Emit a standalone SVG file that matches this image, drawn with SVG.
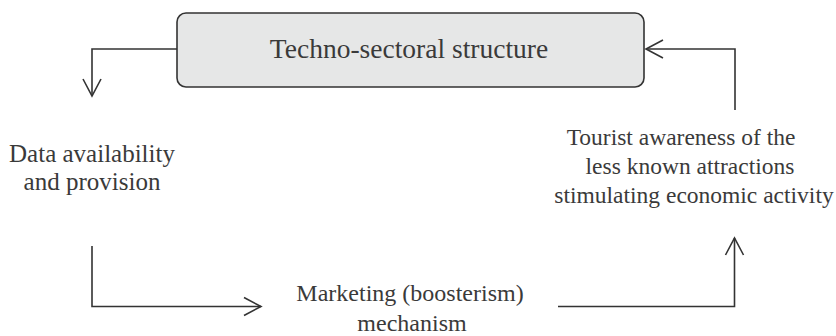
<svg xmlns="http://www.w3.org/2000/svg" width="836" height="336" viewBox="0 0 836 336">
<style>
.lbl{font-family:"Liberation Serif","Times New Roman",serif;fill:#3a3a3a;text-anchor:middle}
.con{fill:none;stroke:#333;stroke-width:1.6}
.head{fill:none;stroke:#333;stroke-width:1.6;stroke-linejoin:miter}
</style>
<rect width="836" height="336" fill="#fff"/>
<g id="node-techno">
<rect x="177" y="13" width="467" height="74" rx="9" ry="9" fill="#e6e7e7" stroke="#333" stroke-width="1.6"/>
<text class="lbl" x="409" y="57.5" font-size="27.5">Techno-sectoral structure</text>
</g>
<g id="node-data">
<text class="lbl" x="92" y="162" font-size="25">Data availability</text>
<text class="lbl" x="92" y="190" font-size="25">and provision</text>
</g>
<g id="node-marketing">
<text class="lbl" x="410" y="301" font-size="24">Marketing (boosterism)</text>
<text class="lbl" x="412" y="331" font-size="24">mechanism</text>
</g>
<g id="node-tourist">
<text class="lbl" x="681" y="145" font-size="23.5">Tourist awareness of the</text>
<text class="lbl" x="690" y="174" font-size="23.5">less known attractions</text>
<text class="lbl" x="694" y="203" font-size="23.5">stimulating economic activity</text>
</g>
<g id="connectors">
<path class="con" d="M177 49 H92 V96"/>
<path class="head" d="M83 79 L92 96 L101 79"/>
<path class="con" d="M92 246 V306.5 H261"/>
<path class="head" d="M244 297.5 L261 306.5 L244 315.5"/>
<path class="con" d="M558 306.5 H734.5 V238"/>
<path class="head" d="M725.5 255 L734.5 238 L743.5 255"/>
<path class="con" d="M735 110 V49 H646"/>
<path class="head" d="M663 40 L646 49 L663 58"/>
</g>
</svg>
